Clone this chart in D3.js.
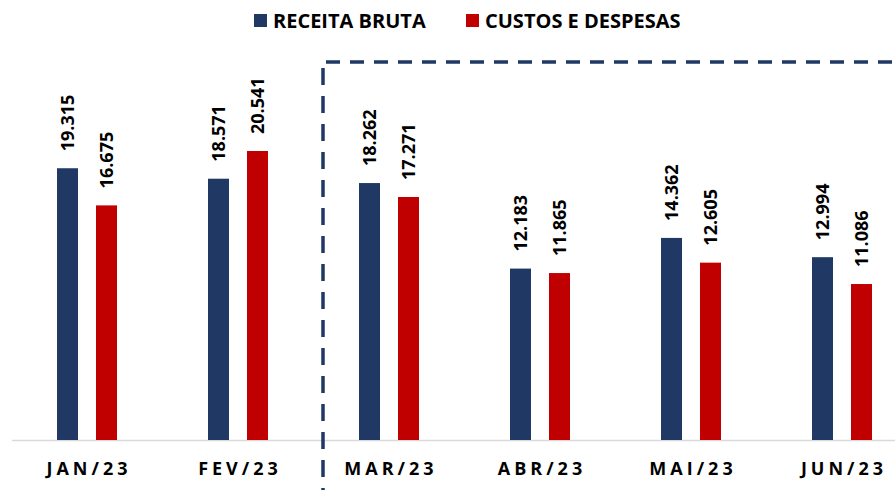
<!DOCTYPE html>
<html>
<head>
<meta charset="utf-8">
<script src="https://cdn.jsdelivr.net/npm/d3@7"></script>
<style>
  body { margin: 0; background: #fff; }
  svg { display: block; }
  text { font-family: "Open Sans", "Liberation Sans", sans-serif; font-weight: bold; fill: #000; }
</style>
</head>
<body>
<div id="chart"></div>
<script>
// data
var months = ["JAN/23", "FEV/23", "MAR/23", "ABR/23", "MAI/23", "JUN/23"];
var receita = [19.315, 18.571, 18.262, 12.183, 14.362, 12.994];
var custos = [16.675, 20.541, 17.271, 11.865, 12.605, 11.086];
var seriesNames = ["RECEITA BRUTA", "CUSTOS E DESPESAS"];
var seriesColors = ["#203864", "#C00000"];

var width = 895, height = 490;
var baseline = 440;

var svg = d3.select("#chart")
    .append("svg")
    .attr("width", width)
    .attr("height", height);

// scales
var x0 = d3.scaleBand()
    .domain(months)
    .range([11.5, 917.5]);   // step 151

var x1 = d3.scaleBand()
    .domain(seriesNames)
    .range([-30, 30])
    .paddingInner(18 / 39);

var y = d3.scaleLinear()
    .domain([0, 25])
    .range([baseline, baseline - 25 * 14.07]);

var rows = months.map(function(m, i) {
    return { month: m, values: [receita[i], custos[i]] };
});

// gray axis line
svg.append("line")
    .attr("x1", 12).attr("x2", width)
    .attr("y1", baseline + 0.5).attr("y2", baseline + 0.5)
    .attr("stroke", "#d9d9d9")
    .attr("stroke-width", 1.5);

// bars
var groups = svg.append("g")
    .selectAll("g")
    .data(rows)
    .enter()
    .append("g")
    .attr("transform", function(d) { return "translate(" + (x0(d.month) + x0.bandwidth() / 2) + ",0)"; });

groups.selectAll("rect")
    .data(function(d) { return d.values.map(function(v, j) { return { key: seriesNames[j], value: v, color: seriesColors[j] }; }); })
    .enter()
    .append("rect")
    .attr("x", function(d) { return x1(d.key); })
    .attr("width", x1.bandwidth())
    .attr("y", function(d) { return y(d.value); })
    .attr("height", function(d) { return baseline - y(d.value); })
    .attr("fill", function(d) { return d.color; });

// value labels, rotated
groups.selectAll("text.val")
    .data(function(d) { return d.values.map(function(v, j) { return { key: seriesNames[j], value: v }; }); })
    .enter()
    .append("text")
    .attr("class", "val")
    .attr("transform", function(d) {
        var cx = x1(d.key) + x1.bandwidth() / 2 + 6.5;
        return "translate(" + cx + "," + (y(d.value) - 17) + ") rotate(-90)";
    })
    .attr("font-size", "18px")
    .text(function(d) { return d3.format(".3f")(d.value); });

// month labels
svg.append("g")
    .selectAll("text")
    .data(months)
    .enter()
    .append("text")
    .attr("x", function(d) { return x0(d) + x0.bandwidth() / 2 + 2; })
    .attr("y", 475)
    .attr("text-anchor", "middle")
    .attr("font-size", "18px")
    .attr("letter-spacing", "4px")
    .text(function(d) { return d; });

// dashed frame
svg.append("line")
    .attr("x1", 323).attr("x2", 323)
    .attr("y1", 68).attr("y2", height)
    .attr("stroke", "#203864")
    .attr("stroke-width", 3.5)
    .attr("stroke-dasharray", "17,11");

svg.append("line")
    .attr("x1", 326).attr("x2", width)
    .attr("y1", 62).attr("y2", 62)
    .attr("stroke", "#203864")
    .attr("stroke-width", 3.5)
    .attr("stroke-dasharray", "14,10");

// legend
var legendX = [254, 466];
var legend = svg.append("g")
    .selectAll("g")
    .data(seriesNames)
    .enter()
    .append("g")
    .attr("transform", function(d, i) { return "translate(" + legendX[i] + ",14)"; });

legend.append("rect")
    .attr("width", 13).attr("height", 13)
    .attr("fill", function(d, i) { return seriesColors[i]; });

legend.append("text")
    .attr("x", 19)
    .attr("y", 13.5)
    .attr("font-size", "20px")
    .text(function(d) { return d; });
</script>
</body>
</html>
